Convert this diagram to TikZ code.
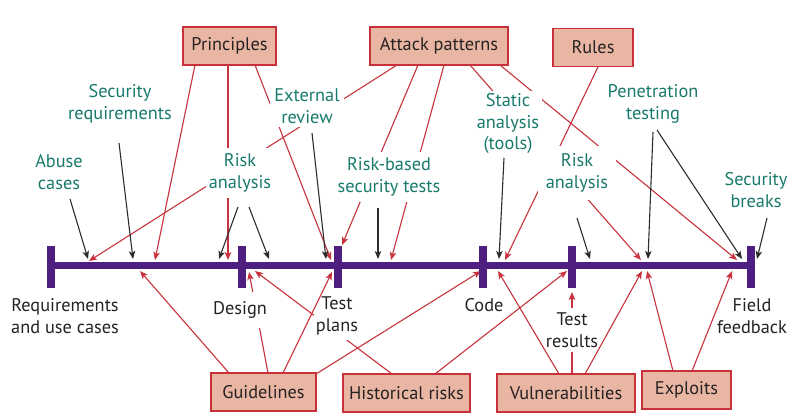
\documentclass[tikz,border=0pt]{standalone}
\usepackage{fontspec}
\setmainfont{PT Sans}
\usetikzlibrary{arrows.meta}
\definecolor{boxred}{RGB}{200,48,58}
\definecolor{boxfill}{RGB}{234,182,164}
\definecolor{tealtext}{RGB}{24,122,108}
\definecolor{barcol}{RGB}{78,30,128}
\definecolor{ink}{RGB}{38,34,34}
\definecolor{darr}{RGB}{45,45,45}
\definecolor{rline}{RGB}{200,50,60}
\begin{document}
\begin{tikzpicture}[x=1pt,y=-1pt,
  every node/.style={font=\fontsize{18.3}{21.5}\selectfont},
  src/.style={draw=boxred, line width=1.6pt, fill=boxfill, text=ink, minimum height=38pt, inner sep=0pt},
  lab/.style={text=tealtext, align=center, fill=white, inner sep=2pt},
  phase/.style={text=ink, align=center, inner sep=1pt},
  tk/.style={fill=barcol, minimum width=8pt, minimum height=42pt, inner sep=0pt},
  rarr/.style={draw=rline, line width=1.1pt, -{Stealth[length=8pt,width=6.5pt,inset=2pt]}},
  barr/.style={draw=darr, line width=1.1pt, -{Stealth[length=8pt,width=6.5pt,inset=2pt]}}]
\useasboundingbox (0,0) rectangle (794,419);
\fill[white] (0,0) rectangle (794,419);

% source boxes
\node[src, minimum width=93pt]  (pr) at (229.5,46) {Principles};
\node[src, minimum width=138pt] (ap) at (439,46) {Attack patterns};
\node[src, minimum width=80pt]  (ru) at (593,47.5) {Rules};
\node[src, minimum width=105pt] (gl) at (263.5,392) {Guidelines};
\node[src, minimum width=127pt] (hr) at (406.5,393) {Historical risks};
\node[src, minimum width=138pt] (vu) at (566,393) {Vulnerabilities};
\node[src, minimum width=89pt]  (ex) at (686.5,390) {Exploits};

% start points on boxes
\coordinate (pa) at (195,65);  \coordinate (pb) at (228,65);  \coordinate (pc) at (255,65);
\coordinate (ad) at (397,65);  \coordinate (ae) at (418,65);  \coordinate (af) at (444,65);
\coordinate (ag) at (470,65);  \coordinate (ah) at (500,65);  \coordinate (rs) at (598,67);
\coordinate (gi) at (229,373); \coordinate (gj) at (268,373); \coordinate (gk) at (283,373);
\coordinate (gl1) at (316,374); \coordinate (hm) at (392,374); \coordinate (hn) at (435,374);
\coordinate (vo) at (559,374); \coordinate (vp) at (572,374); \coordinate (vq) at (585,374);
\coordinate (er) at (673,371); \coordinate (es) at (692,371);

% arrow tips at the time line
\coordinate (ta) at (155,260); \coordinate (tb) at (228,260); \coordinate (tc) at (331,260);
\coordinate (td) at (89,261);  \coordinate (te) at (342,245); \coordinate (tf) at (391,260);
\coordinate (tg) at (641,260); \coordinate (th) at (737,260); \coordinate (tr) at (505,260);
\coordinate (ti) at (140,271); \coordinate (tj) at (249,272); \coordinate (tk1) at (332,272);
\coordinate (tl) at (481,271); \coordinate (tm) at (255,271); \coordinate (tn) at (567,271);
\coordinate (to) at (498,271); \coordinate (tp) at (572,292); \coordinate (tq) at (642,271);
\coordinate (tr2) at (647,271); \coordinate (ts) at (732,271);

% red connectors that pass behind labels
\draw[rarr] (pb) -- (tb);
\draw[rarr] (pc) -- (tc);
\draw[rarr] (ad) -- (td);
\draw[rarr] (ae) -- (te);
\draw[rarr] (af) -- (tf);
\draw[rarr] (ag) -- (tg);
\draw[rarr] (ah) -- (th);
\draw[rarr] (rs) -- (tr);
\draw[rarr] (gj) -- (tj);
\draw[rarr] (hm) -- (tm);
\draw[rarr] (vp) -- (tp);

% activity labels
\node[lab] (abuse) at (59,172) {Abuse\\cases};
\node[lab] (secreq) at (120,104) {Security\\requirements};
\node[lab, inner xsep=3pt, inner ysep=6pt] (ra1) at (240,173) {Risk\\analysis};
\node[lab, inner sep=4pt] (extrev) at (307,106) {External\\review};
\node[lab, inner xsep=3pt, inner ysep=6pt] (rbst) at (389,177) {Risk-based\\security tests};
\node[lab, inner sep=3pt] (static) at (508,124) {Static\\analysis\\(tools)};
\node[lab, inner xsep=8pt, inner ysep=8pt] (ra2) at (577,173) {Risk\\analysis};
\node[lab] (pentest) at (653,104) {Penetration\\testing};
\node[lab] (breaks) at (756,190) {Security\\breaks};

% phase labels
\node[phase] (req) at (65,316) {Requirements\\and use cases};
\node[phase, fill=white, inner xsep=2pt, inner ysep=10pt] (des) at (240,310) {Design};
\node[phase, fill=white, inner xsep=2pt, inner ysep=5pt] (tpl) at (337,316) {Test\\plans};
\node[phase] (code) at (484,305) {Code};
\node[phase, fill=white, inner xsep=1pt, inner ysep=5pt] (tres) at (572,330) {Test\\results};
\node[phase] (field) at (752,316) {Field\\feedback};

% remaining red connectors
\draw[rarr] (pa) -- (ta);
\draw[rarr] (gi) -- (ti);
\draw[rarr] (gk) -- (tk1);
\draw[rarr] (gl1) -- (tl);
\draw[rarr] (hn) -- (tn);
\draw[rarr] (vo) -- (to);
\draw[rarr] (vq) -- (tq);
\draw[rarr] (er) -- (tr2);
\draw[rarr] (es) -- (ts);

% black connectors from activities
\coordinate (b1s) at (70,199);  \coordinate (b1t) at (88,259);
\coordinate (b2s) at (119,143); \coordinate (b2t) at (133,259);
\coordinate (b3s) at (238,207); \coordinate (b3t) at (219,259);
\coordinate (b4s) at (249,207); \coordinate (b4t) at (269,259);
\coordinate (b5s) at (312,133); \coordinate (b5t) at (326,259);
\coordinate (b6s) at (378,208); \coordinate (b6t) at (378,259);
\coordinate (b7s) at (504,158); \coordinate (b7t) at (499,259);
\coordinate (b8s) at (577,218); \coordinate (b8t) at (590,259);
\coordinate (b9s) at (653,132); \coordinate (b9t) at (648,259);
\coordinate (b10s) at (657,130); \coordinate (b10t) at (742,259);
\coordinate (b11s) at (767,218); \coordinate (b11t) at (757,259);
\foreach \i in {1,...,11} {\draw[barr] (b\i s) -- (b\i t);}

% time line
\node[tk] (k1) at (51,267) {};
\node[tk] (k2) at (242,267) {};
\node[tk] (k3) at (338,267) {};
\node[tk] (k4) at (483,267) {};
\node[tk] (k5) at (572,267) {};
\node[tk] (k6) at (751,267) {};
\draw[barcol, line width=7pt] (k1.center |- 0,265.5) -- (k6.center |- 0,265.5);
\end{tikzpicture}
\end{document}
